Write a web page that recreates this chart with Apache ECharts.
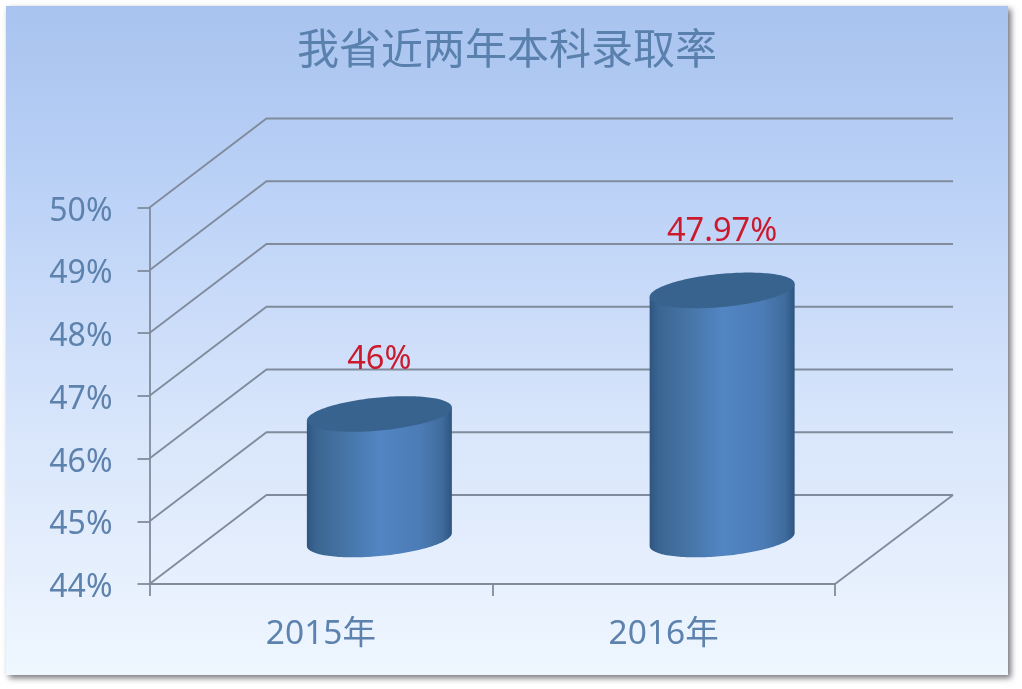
<!DOCTYPE html>
<html>
<head>
<meta charset="utf-8">
<style>html,body{margin:0;padding:0;background:#fff}#c{width:1022px;height:689px}</style>
<script src="https://cdn.jsdelivr.net/npm/echarts@6/dist/echarts.min.js"></script>
</head>
<body>
<div id="c"></div>
<script>
const titleText = '我省近两年本科录取率';
const categories = ['2015年', '2016年'];
const rates = [46, 47.97];
const valueLabels = ['46%', '47.97%'];
const gridTicks = [44, 45, 46, 47, 48, 49, 50];
const labelLift = [54, 59];

const depthX = 117, depthY = 89;
const radiusX = 72.5, radiusY = 16.6, skew = 6.5;
const lineColor = '#808b9c';
const textColor = '#5d82ad';
const latin = '"Noto Sans","Noto Sans CJK SC",sans-serif';

function ellipsePoint(cx, cy, t) {
  return [cx + radiusX * Math.cos(t), cy - radiusY * Math.sin(t) - skew * Math.cos(t)];
}
function renderGrid(params, api) {
  const v = api.value(1);
  const cs = params.coordSys;
  const y = api.coord([0, v])[1];
  const style = { stroke: lineColor, lineWidth: 1.8, fill: null };
  const children = [{
    type: 'polyline',
    shape: { points: [[cs.x, y], [cs.x + depthX, y - depthY], [cs.x + cs.width + depthX + 1, y - depthY]] },
    style
  }];
  if (v === gridTicks[0]) {
    children.push({
      type: 'line',
      shape: { x1: cs.x + cs.width, y1: y, x2: cs.x + cs.width + depthX + 1, y2: y - depthY },
      style
    });
  }
  return { type: 'group', children };
}
function renderCylinder(params, api) {
  const i = api.value(0), v = api.value(1);
  const base = api.coord([i, gridTicks[0]]);
  const top = api.coord([i, v]);
  const cx = base[0] + depthX / 2;
  const yB = base[1] - depthY / 2;
  const yT = top[1] - depthY / 2;
  const side = [];
  side.push(ellipsePoint(cx, yT, Math.PI));
  const n = 80;
  for (let k = 0; k <= n; k++) side.push(ellipsePoint(cx, yB, Math.PI + Math.PI * k / n));
  side.push(ellipsePoint(cx, yT, 0));
  const cap = [];
  for (let k = 0; k < 2 * n; k++) cap.push(ellipsePoint(cx, yT, Math.PI * k / n));
  return {
    type: 'group',
    children: [
      {
        type: 'polygon', shape: { points: side },
        style: {
          fill: new echarts.graphic.LinearGradient(0, 0, 1, 0, [
            { offset: 0, color: '#2f5580' },
            { offset: 0.06, color: '#3a6591' },
            { offset: 0.25, color: '#4573a4' },
            { offset: 0.5, color: '#5285c3' },
            { offset: 0.78, color: '#4c7cb6' },
            { offset: 0.93, color: '#3f6c9e' },
            { offset: 1, color: '#2f5580' }
          ])
        }
      },
      { type: 'polygon', shape: { points: cap }, style: { fill: '#38638f' } },
      {
        type: 'text',
        style: {
          text: valueLabels[i], x: cx, y: yT - labelLift[i],
          fill: '#cb1a2e', font: '32.6px ' + latin,
          align: 'center', verticalAlign: 'middle'
        }
      }
    ]
  };
}

const chart = echarts.init(document.getElementById('c'), null, { renderer: 'canvas' });
chart.setOption({
  animation: false,
  backgroundColor: '#ffffff',
  graphic: [{
    type: 'rect', z: -10, silent: true,
    shape: { x: 6, y: 6, width: 1002, height: 669 },
    style: {
      fill: new echarts.graphic.LinearGradient(0, 0, 0, 1, [
        { offset: 0, color: '#a8c3ef' },
        { offset: 0.3, color: '#bdd3f7' },
        { offset: 0.6, color: '#d6e4fb' },
        { offset: 0.8, color: '#e3edfc' },
        { offset: 1, color: '#eff7ff' }
      ]),
      shadowColor: 'rgba(70,70,80,0.75)', shadowBlur: 6, shadowOffsetX: 3, shadowOffsetY: 3
    }
  }],
  title: {
    text: titleText, left: 502, top: 22, textAlign: 'center',
    textStyle: { color: '#5a80ad', fontSize: 42, fontWeight: 'normal', fontFamily: '"Noto Sans CJK SC",sans-serif' }
  },
  grid: { left: 149.5, right: 187, top: 207.5, bottom: 105, containLabel: false },
  xAxis: {
    type: 'category', data: categories,
    axisLine: { lineStyle: { color: lineColor, width: 1.8 } },
    axisTick: { show: true, length: 12, lineStyle: { color: lineColor, width: 1.8 } },
    axisLabel: { color: textColor, fontSize: 33.5, fontFamily: latin, margin: 34 }
  },
  yAxis: {
    type: 'value', min: gridTicks[0], max: gridTicks[gridTicks.length - 1], interval: 1,
    splitLine: { show: false },
    axisLine: { show: true, lineStyle: { color: lineColor, width: 1.8 } },
    axisTick: { show: true, length: 12, lineStyle: { color: lineColor, width: 1.8 } },
    axisLabel: {
      margin: 37, formatter: '{t|{value}%}',
      rich: { t: { color: textColor, fontSize: 32, fontFamily: latin, padding: [8, 0, 0, 0] } }
    }
  },
  series: [
    { type: 'custom', z: 1, silent: true, renderItem: renderGrid, data: gridTicks.map(t => [0, t]), clip: false },
    { type: 'custom', z: 3, silent: true, renderItem: renderCylinder, data: rates.map((r, i) => [i, r]), clip: false }
  ]
});
</script>
</body>
</html>
